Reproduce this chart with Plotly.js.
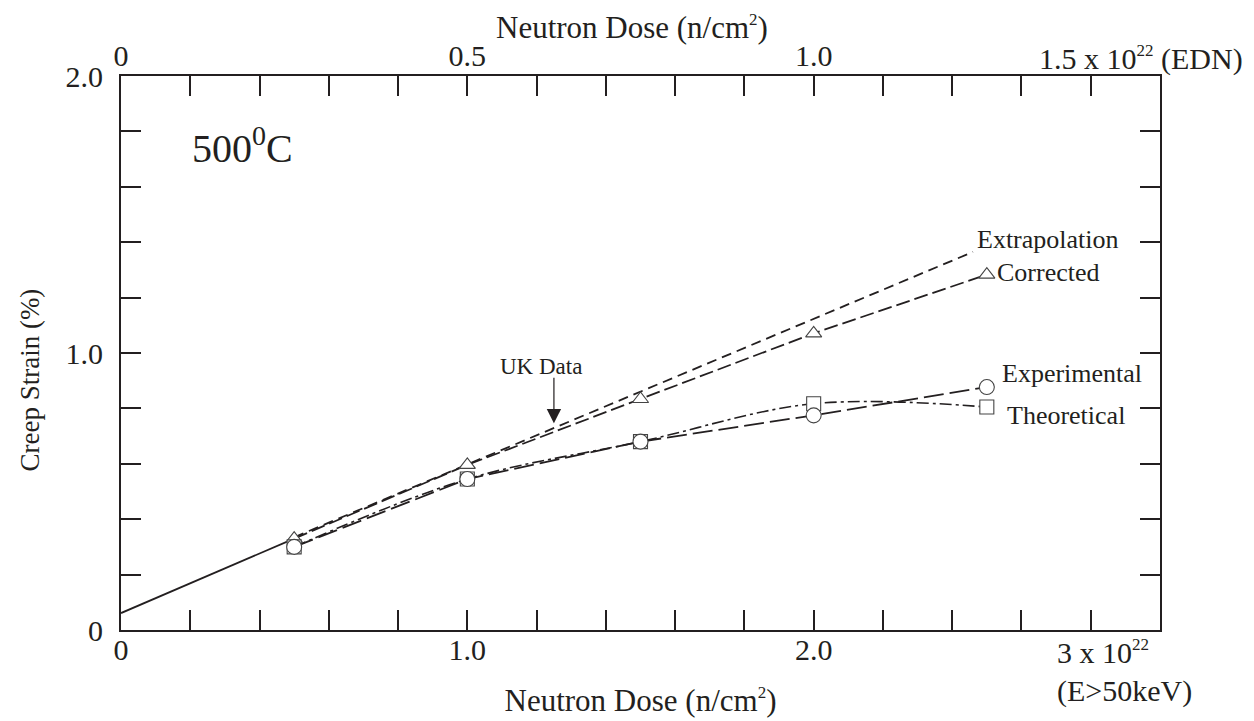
<!DOCTYPE html>
<html>
<head>
<meta charset="utf-8">
<script src="https://cdn.plot.ly/plotly-3.0.1.min.js"></script>
<style>html,body{margin:0;padding:0;background:#fff;}#chart{width:1254px;height:721px;}</style>
</head>
<body>
<div id="chart"></div>
<script>
// Neutron dose (x 10^22 n/cm^2, E>50keV)
const doseX = [0.5, 1.0, 1.5, 2.0, 2.5];
const corrected = [0.33, 0.596, 0.834, 1.071, 1.283];
const experimental = [0.30, 0.545, 0.68, 0.775, 0.877];
const theoretical = [0.30, 0.545, 0.68, 0.817, 0.805];
const extrapX = [0.5, 2.46];
const extrapY = [0.335, 1.365];
const initialX = [0, 0.5];
const initialY = [0.061, 0.33];
const ukDataX = 1.25, ukDataY = 0.746;

const bottomTicks = [0, 1.0, 2.0];
const bottomLabels = ['0', '1.0', '2.0'];
const topTicks = [0, 0.5, 1.0];
const topLabels = ['0', '0.5', '1.0'];
const yTicks = [0, 1.0, 2.0];
const yLabels = ['0', '1.0', '2.0'];

const INK = '#231f20';
const FONT = 'Liberation Serif, Times New Roman, serif';
const mk = (sym, size) => ({symbol: sym, size: size, color: 'white', line: {color: '#444', width: 1.1}});
const minorTicks = (d) => ({dtick: d, tick0: 0, ticks: 'inside', ticklen: 20, tickwidth: 2, tickcolor: INK, showgrid: false});
const SUP = (t) => '<sup><span style="font-size:17px">' + t + '</span></sup>';

const traces = [
  {x: initialX, y: initialY, mode: 'lines', line: {color: INK, width: 1.8}, hoverinfo: 'skip', name: 'initial'},
  {x: extrapX, y: extrapY, mode: 'lines', line: {color: INK, width: 1.8, dash: '10px,6px'}, name: 'Extrapolation'},
  {x: doseX, y: corrected, mode: 'lines+markers', line: {color: INK, width: 1.8, dash: '14px,5px'}, marker: mk('triangle-up', 14), name: 'Corrected'},
  {x: doseX, y: theoretical, mode: 'lines+markers', line: {color: INK, width: 1.6, dash: '12px,4px,3px,4px', shape: 'spline', smoothing: 1}, marker: mk('square', 14), name: 'Theoretical'},
  {x: doseX, y: experimental, mode: 'lines+markers', line: {color: INK, width: 1.8, dash: '20px,6px'}, marker: mk('circle', 15), name: 'Experimental'},
  // empty trace so the top (EDN) dose axis is drawn
  {x: [], y: [], xaxis: 'x2', yaxis: 'y', mode: 'lines', hoverinfo: 'skip', name: 'EDN axis'}
];

const ann = (x, y, text, size, xanchor) => ({x: x, y: y, xref: 'x', yref: 'y', text: text, showarrow: false, xanchor: xanchor || 'left', yanchor: 'middle', font: {family: FONT, size: size, color: INK}});
const pann = (x, y, text, size, xanchor) => ({x: x, y: y, xref: 'paper', yref: 'paper', text: text, showarrow: false, xanchor: xanchor || 'left', yanchor: 'middle', font: {family: FONT, size: size, color: INK}});

const layout = {
  width: 1254, height: 721,
  margin: {l: 121, r: 94, t: 76, b: 91},
  paper_bgcolor: 'white', plot_bgcolor: 'white',
  showlegend: false,
  font: {family: FONT, color: INK, size: 30},
  xaxis: {
    range: [0, 3], tickvals: bottomTicks, ticktext: bottomLabels,
    ticks: 'inside', ticklen: 20, tickwidth: 2, tickcolor: INK,
    minor: minorTicks(0.2),
    showline: true, linecolor: INK, linewidth: 2, showgrid: false, zeroline: false,
    tickfont: {family: FONT, size: 30, color: INK},
    ticklabelstandoff: -8,
    title: {text: 'Neutron Dose (n/cm' + SUP('2') + ')', font: {family: FONT, size: 31, color: INK}, standoff: 24}
  },
  xaxis2: {
    overlaying: 'x', side: 'top', anchor: 'y',
    range: [0, 1.5], tickvals: topTicks, ticktext: topLabels,
    ticks: 'inside', ticklen: 20, tickwidth: 2, tickcolor: INK,
    minor: minorTicks(0.1),
    showline: true, linecolor: INK, linewidth: 2, showgrid: false, zeroline: false,
    tickfont: {family: FONT, size: 30, color: INK},
    ticklabelstandoff: -4
  },
  yaxis: {
    range: [0, 2], tickvals: yTicks, ticktext: yLabels,
    ticks: 'inside', ticklen: 20, tickwidth: 2, tickcolor: INK,
    minor: minorTicks(0.2),
    showline: true, linecolor: INK, linewidth: 2, mirror: 'ticks', showgrid: false, zeroline: false,
    tickfont: {family: FONT, size: 30, color: INK},
    ticklabelstandoff: 10
  },
  annotations: [
    pann(0.4918, 1.0875, 'Neutron Dose (n/cm' + SUP('2') + ')', 31, 'center'),
    {xref: 'paper', yref: 'paper', x: -0.0876, y: 0.452, text: 'Creep Strain (%)', textangle: -90, showarrow: false, xanchor: 'center', yanchor: 'middle', font: {family: FONT, size: 27, color: INK}},
    ann(0.2, 1.75, '500<sup>0</sup>C', 40),
    ann(2.465, 1.41, 'Extrapolation', 26),
    ann(2.525, 1.292, 'Corrected', 26),
    ann(2.538, 0.927, 'Experimental', 26),
    ann(2.553, 0.775, 'Theoretical', 26),
    ann(1.212, 0.952, 'UK Data', 23, 'center'),
    {x: ukDataX, y: ukDataY, xref: 'x', yref: 'y', text: '', showarrow: true, ax: 0, ay: -47, arrowhead: 2, arrowsize: 2.4, arrowwidth: 1.2, arrowcolor: INK},
    pann(0.8816, 1.0316, '1.5 x 10' + SUP('22') + ' (EDN)', 30),
    pann(0.899, -0.0402, '3 x 10' + SUP('22'), 30),
    pann(0.899, -0.1106, '(E&gt;50keV)', 30)
  ]
};

Plotly.newPlot('chart', traces, layout, {staticPlot: true});
</script>
</body>
</html>
